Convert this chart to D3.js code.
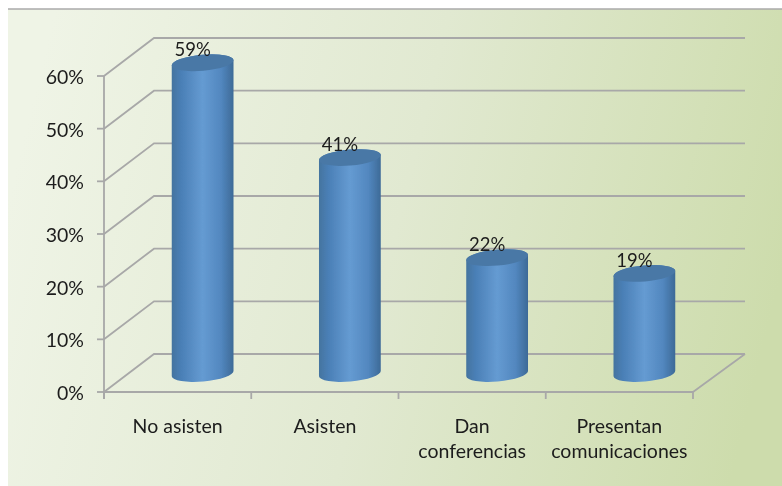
<!DOCTYPE html>
<html><head><meta charset="utf-8">
<script src="https://cdn.jsdelivr.net/npm/d3@7"></script>
<style>html,body{margin:0;padding:0;background:#fff}svg{display:block}text{font-family:Lato,"Open Sans",sans-serif;fill:#1c1c1c}</style>
</head><body><div id="c"></div>
<script>
const categories=[["No asisten"],["Asisten"],["Dan","conferencias"],["Presentan","comunicaciones"]];
const values=[59,41,22,19];
const labels=["59%","41%","22%","19%"];
const ticks=[0,10,20,30,40,50,60];
const W=782,H=486;
const svg=d3.select("#c").append("svg").attr("width",W).attr("height",H);
const defs=svg.append("defs");
const bg=defs.append("linearGradient").attr("id","bg").attr("x1",0).attr("y1",.4).attr("x2",1).attr("y2",.55);
[[0,"#eff4e6"],[.5,"#e1e9d1"],[1,"#cddcac"]].forEach(s=>bg.append("stop").attr("offset",s[0]).attr("stop-color",s[1]));
const cg=defs.append("linearGradient").attr("id","cyl");
[[0,"#44749f"],[.15,"#4a7fb6"],[.5,"#659bd2"],[.8,"#5287bf"],[1,"#3d6a97"]].forEach(s=>cg.append("stop").attr("offset",s[0]).attr("stop-color",s[1]));
const soft=defs.append("filter").attr("id","soft").attr("x","-5%").attr("y","-5%").attr("width","110%").attr("height","110%");
soft.append("feGaussianBlur").attr("stdDeviation",.45);
svg.append("rect").attr("x",8).attr("y",9).attr("width",W-8).attr("height",H-9).attr("fill","url(#bg)");
svg.append("line").attr("x1",8).attr("x2",W).attr("y1",9).attr("y2",9).attr("stroke","#aaa").attr("stroke-width",1.5);
const root=svg.append("g").attr("filter","url(#soft)");
const y=d3.scaleLinear().domain([0,60]).range([392,76]);
const x=d3.scaleBand().domain(d3.range(categories.length)).range([104,693]);
const dx=50,dy=-38,grid="#a8a8a8";
const g=root.append("g").attr("stroke",grid).attr("stroke-width",1.8).attr("fill","none");
ticks.forEach(t=>{
  g.append("path").attr("d",d3.line()([[104,y(t)],[104+dx,y(t)+dy],[693+dx+2,y(t)+dy]]));
  g.append("line").attr("x1",97).attr("x2",104).attr("y1",y(t)).attr("y2",y(t));
});
g.append("line").attr("x1",104).attr("x2",104).attr("y1",y(60)).attr("y2",399);
g.append("line").attr("x1",104).attr("x2",693).attr("y1",y(0)).attr("y2",y(0));
g.append("line").attr("x1",693).attr("x2",693+dx+2).attr("y1",y(0)).attr("y2",y(0)+dy);
d3.range(categories.length+1).forEach(i=>{
  const px=104+x.step()*i;
  g.append("line").attr("x1",px).attr("x2",px).attr("y1",y(0)).attr("y2",399);
});
root.selectAll(".yl").data(ticks).join("text").attr("x",84).attr("y",t=>y(t)+8).attr("text-anchor","end").attr("font-size",19.5).text(t=>t+"%");
const rx=31,ry=8,rot=-5,sh=-18.5,off=25;
const ex=rx*Math.cos(5*Math.PI/180),ey=rx*Math.sin(5*Math.PI/180);
values.forEach((v,i)=>{
  const c=x(i)+x.step()/2+off,b=y(0)+sh,t=y(v)+sh;
  root.append("path").attr("fill","url(#cyl)")
   .attr("d",`M${c-ex},${t+ey}L${c-ex},${b+ey}A${rx},${ry} ${rot} 0 0 ${c+ex},${b-ey}L${c+ex},${t-ey}A${rx},${ry} ${rot} 0 0 ${c-ex},${t+ey}Z`);
  root.append("ellipse").attr("cx",c).attr("cy",t).attr("rx",rx).attr("ry",ry).attr("transform",`rotate(${rot} ${c} ${t})`).attr("fill","#4a78a6");
  root.append("text").attr("x",c-10).attr("y",t-6.5).attr("text-anchor","middle").attr("font-size",18.5).text(labels[i]);
  const tx=root.append("text").attr("text-anchor","middle").attr("font-size",19.5);
  categories[i].forEach((s,k)=>tx.append("tspan").attr("x",x(i)+x.step()/2).attr("y",433+k*25).text(s));
});
</script></body></html>
